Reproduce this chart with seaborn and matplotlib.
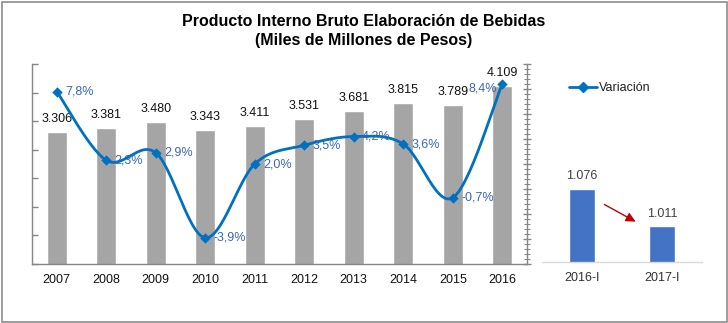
import numpy as np
import pandas as pd
import matplotlib
matplotlib.use("Agg")
import matplotlib.pyplot as plt
from matplotlib import font_manager
from matplotlib.lines import Line2D
from matplotlib.patches import Rectangle
import seaborn as sns

# ---------------- data ----------------
years = ["2007", "2008", "2009", "2010", "2011", "2012", "2013", "2014", "2015", "2016"]
pib = [3306, 3381, 3480, 3343, 3411, 3531, 3681, 3815, 3789, 4109]
variacion = [7.8, 2.3, 2.9, -3.9, 2.0, 3.5, 4.2, 3.6, -0.7, 8.4]
quarters = ["2016-I", "2017-I"]
quarter_vals = [1076, 1011]

title = "Producto Interno Bruto Elaboración de Bebidas\n(Miles de Millones de Pesos)"
legend_label = "Variación"

# ---------------- style ----------------
sns.set_theme(style="white")
names = {f.name for f in font_manager.fontManager.ttflist}
narrow = "Liberation Sans Narrow" if "Liberation Sans Narrow" in names else "Liberation Sans"
plt.rcParams["font.family"] = [narrow, "DejaVu Sans"]

def fmt_thousands(v):
    return f"{v:,}".replace(",", ".")

def fmt_pct(v):
    return f"{v:.1f}%".replace(".", ",")

W, H = 728, 323
fig = plt.figure(figsize=(W / 100, H / 100), dpi=100)

# outer frame
fig.patches.append(Rectangle((1.5 / W, 1.5 / H), 1 - 3 / W, 1 - 3 / H, transform=fig.transFigure,
                             fill=False, edgecolor="#8C8C8C", linewidth=1.2))

# ---------------- main axes ----------------
ax = fig.add_axes([32 / W, 1 - 264 / H, (527 - 32) / W, 200 / H])
df = pd.DataFrame({"year": years, "pib": pib})
sns.barplot(data=df, x="year", y="pib", color="#A5A5A5", saturation=1, width=0.4, ax=ax)
ax.set_xlim(-0.5, len(years) - 0.5)
ax.set_ylim(1000, 4500)
ax.set_yticks(np.arange(1000, 4501, 500))
ax.set_yticklabels([])
ax.set_xlabel("")
ax.set_ylabel("")
for c in ax.containers:
    ax.bar_label(c, labels=[fmt_thousands(v) for v in pib], padding=5, fontsize=9, color="#111111")
ax.tick_params(axis="x", length=0, labelsize=9, colors="#111111", pad=7)
ax.tick_params(axis="y", direction="in", length=4, width=1, color="#868686", left=True)
for s in ["top", "right"]:
    ax.spines[s].set_visible(False)
for s in ["left", "bottom"]:
    ax.spines[s].set_color("#868686")
    ax.spines[s].set_linewidth(1)

# secondary axis for variation
ax2 = ax.twinx()
ax2.set_ylim(-6, 10)
ax2.set_yticks(np.arange(-6, 10.1, 2))
ax2.set_yticks(np.arange(-6, 10.1, 0.4), minor=True)
ax2.set_yticklabels([])
ax2.tick_params(axis="y", which="major", direction="inout", length=6, width=1, color="#868686", right=True)
ax2.tick_params(axis="y", which="minor", direction="inout", length=4, width=0.8, color="#868686", right=True)
for s in ["top", "left", "bottom"]:
    ax2.spines[s].set_visible(False)
ax2.spines["right"].set_color("#868686")
ax2.spines["right"].set_linewidth(1)

# smooth (Catmull-Rom) curve through the points, computed in pixel-like space
xs = np.arange(len(variacion), dtype=float)
ys = np.array(variacion, dtype=float)
sx, sy = 49.5, 12.5
P = np.column_stack([xs * sx, ys * sy])
Pp = np.vstack([P[0], P, P[-1]])
curve = []
t = np.linspace(0, 1, 30)
for i in range(len(P) - 1):
    p0, p1, p2, p3 = Pp[i], Pp[i + 1], Pp[i + 2], Pp[i + 3]
    c1 = p1 + (p2 - p0) / 6
    c2 = p2 - (p3 - p1) / 6
    seg = ((1 - t) ** 3)[:, None] * p1 + (3 * (1 - t) ** 2 * t)[:, None] * c1 + \
          (3 * (1 - t) * t ** 2)[:, None] * c2 + (t ** 3)[:, None] * p2
    curve.append(seg if i == 0 else seg[1:])
curve = np.vstack(curve)
line_color = "#0070C0"
ax2.plot(curve[:, 0] / sx, curve[:, 1] / sy, color=line_color, lw=2, zorder=3)
sns.scatterplot(x=xs, y=ys, marker="D", s=28, color=line_color, edgecolor=line_color,
                linewidth=0, ax=ax2, zorder=4, legend=False)
for i, (x, y) in enumerate(zip(xs, ys)):
    last = i == len(xs) - 1
    ax2.annotate(fmt_pct(y), (x, y), xytext=(-4 if last else 6, -3 if last else 0),
                 textcoords="offset points", ha="right" if last else "left", va="center",
                 fontsize=9, color="#3A67B0")

# ---------------- quarter panel ----------------
axq = fig.add_axes([542 / W, 1 - 262 / H, 160 / W, 198 / H])
dq = pd.DataFrame({"q": quarters, "v": quarter_vals})
sns.barplot(data=dq, x="q", y="v", color="#4472C4", saturation=1, width=0.33, ax=axq)
axq.set_xlim(-0.5, 1.5)
axq.set_ylim(950, 1290)
axq.set_xlabel("")
axq.set_ylabel("")
axq.set_yticks([])
for c in axq.containers:
    axq.bar_label(c, labels=[fmt_thousands(v) for v in quarter_vals], padding=5, fontsize=9, color="#404040")
axq.tick_params(axis="x", length=0, labelsize=9, colors="#333333", pad=7)
for s in ["top", "right", "left"]:
    axq.spines[s].set_visible(False)
axq.spines["bottom"].set_color("#D9D9D9")
axq.spines["bottom"].set_linewidth(1)
axq.annotate("", xy=(0.70, 1017), xytext=(0.25, 1051),
             arrowprops=dict(arrowstyle="-|>", color="#C00000", lw=1, mutation_scale=14))

# legend
handle = Line2D([0], [0], color=line_color, lw=2, marker="D", markersize=5)
fig.legend([handle], [legend_label], loc="center left", bbox_to_anchor=(563 / W, 1 - 88 / H),
           frameon=False, fontsize=9, handlelength=2.2, handletextpad=0.2, borderpad=0,
           labelcolor="#222222")

# title
fig.text(364 / W, 1 - 31 / H, title, ha="center", va="center", fontsize=11.5,
         fontweight="bold", color="#000000", linespacing=1.3)

fig.savefig("out.png", dpi=100)
